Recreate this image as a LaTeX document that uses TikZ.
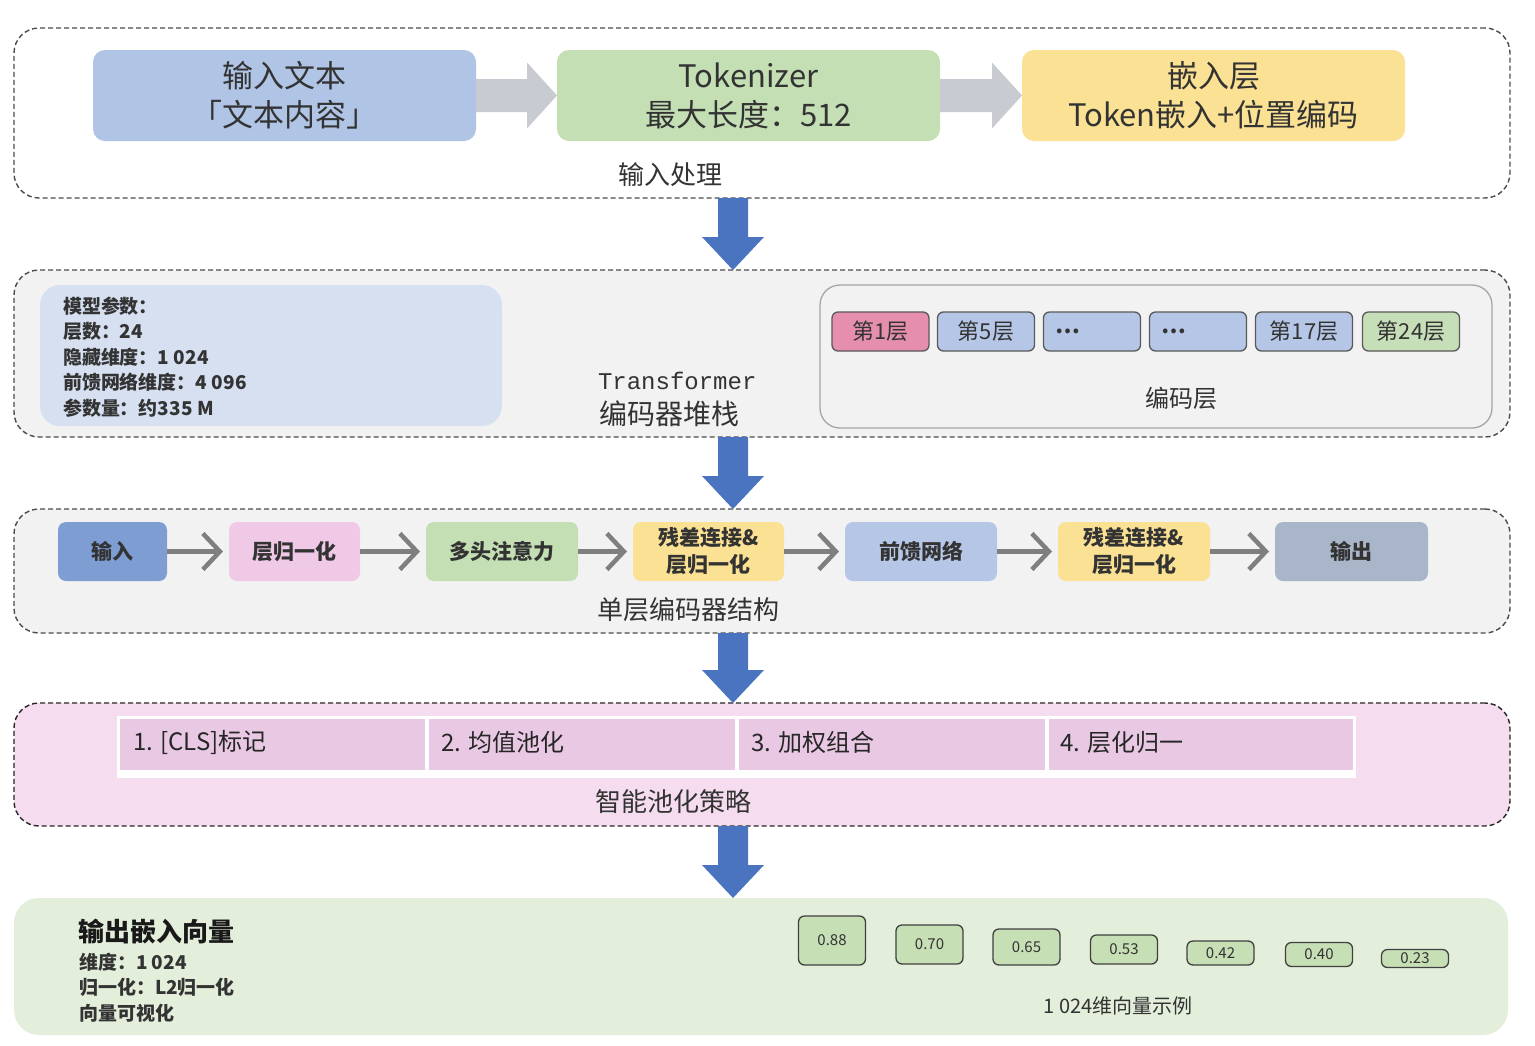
\documentclass[tikz,border=0pt]{standalone}
\usepackage{fontspec}
\setmainfont{Noto Sans CJK SC}
\newfontfamily\monof{Liberation Mono}
\usetikzlibrary{arrows.meta,calc}
\definecolor{boxblue}{HTML}{B0C4E5}
\definecolor{boxgreen}{HTML}{C3DFB3}
\definecolor{boxyellow}{HTML}{FAE194}
\definecolor{grayarr}{HTML}{C8CCD2}
\definecolor{bluearr}{HTML}{4A74C0}
\definecolor{panelgray}{HTML}{F2F2F2}
\definecolor{paramblue}{HTML}{D6E0F1}
\definecolor{layerpink}{HTML}{E68EAD}
\definecolor{layerblue}{HTML}{B5C6E6}
\definecolor{layergreen}{HTML}{C7DFB8}
\definecolor{inblue}{HTML}{7E9ED3}
\definecolor{lnpink}{HTML}{EFC9E6}
\definecolor{outgray}{HTML}{A9B5C9}
\definecolor{poolpink}{HTML}{F5DDEF}
\definecolor{cellpink}{HTML}{E8C8E2}
\definecolor{outgreen}{HTML}{E3EFDB}
\definecolor{valgreen}{HTML}{C6DFB5}
\definecolor{txt}{HTML}{333333}
\definecolor{flowgray}{HTML}{7F7F7F}
\newcommand\fsz[2]{\fontsize{#1}{#2}\selectfont}
\newcommand\bigright[2]{%
 \fill[grayarr] ($(#1)+(0,-16.5)$) -- ($(#2)+(-30,-16.5)$) -- ($(#2)+(-30,-33)$) -- (#2) -- ($(#2)+(-30,33)$) -- ($(#2)+(-30,16.5)$) -- ($(#1)+(0,16.5)$) -- cycle;}
\newcommand\bigdown[2]{%
 \fill[bluearr] ($(ax|-#1)+(-15,0)$) -- ($(ax|-#2)+(-15,-33)$) -- ($(ax|-#2)+(-31,-33)$) -- (ax|-#2) -- ($(ax|-#2)+(31,-33)$) -- ($(ax|-#2)+(15,-33)$) -- ($(ax|-#1)+(15,0)$) -- cycle;}
\begin{document}
\begin{tikzpicture}[x=1pt,y=-1pt,
  every node/.style={inner sep=0pt,outer sep=0pt,text=txt},
  panel/.style={draw=black!70,dash pattern=on 5pt off 3pt,line width=1.4pt,rounded corners=25pt,minimum width=1496pt},
  topbox/.style={rounded corners=12pt,minimum width=383pt,minimum height=91pt,align=center,font=\fsz{31}{39}},
  layer/.style={draw=black!65,line width=1.3pt,rounded corners=6pt,minimum width=97pt,minimum height=39pt,font=\fsz{22}{26}},
  flowbox/.style={rounded corners=8pt,minimum height=59pt,align=center,font=\bfseries\fsz{21}{27}},
  flowarr/.style={draw=flowgray,line width=4.5pt,shorten >=6pt,-{Straight Barb[length=17pt,width=36pt]}},
  cell/.style={fill=cellpink,minimum height=51pt},
  celltext/.style={anchor=west,font=\fsz{24}{28},text=black!85},
  valbox/.style={draw=black!75,fill=valgreen,line width=1.3pt,rounded corners=6pt,minimum width=67pt,font=\fsz{15}{18}},
  caption/.style={font=\fsz{26}{30}}]
\useasboundingbox[fill=white] (0,0) rectangle (1535,1045);
\coordinate (ax) at (733,0);
% ---- Panel 1
\node[panel,fill=white,minimum height=170pt] (P1) at (762,113) {};
\node[topbox,fill=boxblue] (A) at (284.5,95.5) {输入文本\\「文本内容」};
\node[topbox,fill=boxgreen] (B) at (748.5,95.5) {Tokenizer\\最大长度：512};
\node[topbox,fill=boxyellow] (C) at (1213.5,95.5) {嵌入层\\Token嵌入+位置编码};
\bigright{A.east}{B.west}
\bigright{B.east}{C.west}
\node[caption] (L1) at (670,175) {输入处理};
% ---- Panel 2
\node[panel,fill=panelgray,minimum height=167pt] (P2) at (762,353.5) {};
\node[fill=paramblue,rounded corners=20pt,minimum width=462pt,minimum height=141pt] (par) at (271,355.5) {};
\node[anchor=west,align=left,font=\bfseries\fsz{19}{25.5}] (ptext) at (63,357) {模型参数：\\层数：24\\隐藏维度：1 024\\前馈网络维度：4 096\\参数量：约335 M};
\node[anchor=west,font=\monof\fsz{24}{28}] (tf1) at (598,381) {Transformer};
\node[anchor=west,font=\fsz{28}{30}] (tf2) at (599,414) {编码器堆栈};
\node[draw=black!35,fill=panelgray,line width=1.3pt,rounded corners=20pt,minimum width=672pt,minimum height=143pt] (enc) at (1156,356.5) {};
\node[layer,fill=layerpink] (l1) at (880.5,331.5) {第1层};
\node[layer,fill=layerblue] (l5) at (986,331.5) {第5层};
\node[layer,fill=layerblue,text width=73pt,align=left] (ld1) at (1092,331.5) {\bfseries …};
\node[layer,fill=layerblue,text width=73pt,align=left] (ld2) at (1198,331.5) {\bfseries …};
\node[layer,fill=layerblue] (l17) at (1304,331.5) {第17层};
\node[layer,fill=layergreen] (l24) at (1411,331.5) {第24层};
\node[font=\fsz{24}{28}] (encl) at (1181,398) {编码层};
\bigdown{P1.south}{P2.north}
% ---- Panel 3
\node[panel,fill=panelgray,minimum height=124pt] (P3) at (762,571) {};
\node[flowbox,fill=inblue,minimum width=109pt] (f1) at (112.5,551.5) {输入};
\node[flowbox,fill=lnpink,minimum width=131pt] (f2) at (294.5,551.5) {层归一化};
\node[flowbox,fill=boxgreen,minimum width=152pt] (f3) at (502,551.5) {多头注意力};
\node[flowbox,fill=boxyellow,minimum width=151pt] (f4) at (708.5,551.5) {残差连接\&\\层归一化};
\node[flowbox,fill=layerblue,minimum width=152pt] (f5) at (921,551.5) {前馈网络};
\node[flowbox,fill=boxyellow,minimum width=152pt] (f6) at (1134,551.5) {残差连接\&\\层归一化};
\node[flowbox,fill=outgray,minimum width=153pt] (f7) at (1351.5,551.5) {输出};
\foreach \a/\b in {f1/f2,f2/f3,f3/f4,f4/f5,f5/f6,f6/f7}
  \draw[flowarr] (\a.east) -- (\b.west);
\node[caption] (L3) at (688,610) {单层编码器结构};
\bigdown{P2.south}{P3.north}
% ---- Panel 4
\node[panel,draw=black!85,fill=poolpink,minimum height=123pt] (P4) at (762,764.5) {};
\node[fill=white,minimum width=1239pt,minimum height=62pt] (tbl) at (736.5,747) {};
\node[cell,minimum width=305pt] (c1) at (272.5,744.5) {};
\node[cell,minimum width=306pt] (c2) at (582,744.5) {};
\node[cell,minimum width=306pt] (c3) at (892,744.5) {};
\node[cell,minimum width=304pt] (c4) at (1201,744.5) {};
\node[celltext] (t1) at ($(c1.west)+(13,-2)$) {1. [CLS]标记};
\node[celltext] (t2) at ($(c2.west)+(12,-2)$) {2. 均值池化};
\node[celltext] (t3) at ($(c3.west)+(12,-2)$) {3. 加权组合};
\node[celltext] (t4) at ($(c4.west)+(11,-2)$) {4. 层化归一};
\node[caption] (L4) at (673,802) {智能池化策略};
\bigdown{P3.south}{P4.north}
% ---- Panel 5
\node[fill=outgreen,rounded corners=25pt,minimum width=1494pt,minimum height=137pt] (P5) at (761,966.5) {};
\bigdown{P4.south}{P5.north}
\node[anchor=west,font=\bfseries\fsz{26}{30},text=black!90] (o1) at (78,932) {输出嵌入向量};
\node[anchor=west,align=left,font=\bfseries\fsz{19}{25.5}] (o2) at (79,987.5) {维度：1 024\\归一化：L2归一化\\向量可视化};
\node[valbox,minimum height=49pt] (v1) at (832,940.5) {0.88};
\node[valbox,minimum height=39pt] (v2) at (929.5,944.5) {0.70};
\node[valbox,minimum height=36pt] (v3) at (1026.5,947) {0.65};
\node[valbox,minimum height=29pt] (v4) at (1124,949.5) {0.53};
\node[valbox,minimum height=24pt] (v5) at (1220.5,953) {0.42};
\node[valbox,minimum height=24pt] (v6) at (1319,954.5) {0.40};
\node[valbox,minimum height=18pt] (v7) at (1415,958.5) {0.23};
\node[font=\fsz{20}{24}] (vl) at (1118,1006) {1 024维向量示例};
\end{tikzpicture}
\end{document}
